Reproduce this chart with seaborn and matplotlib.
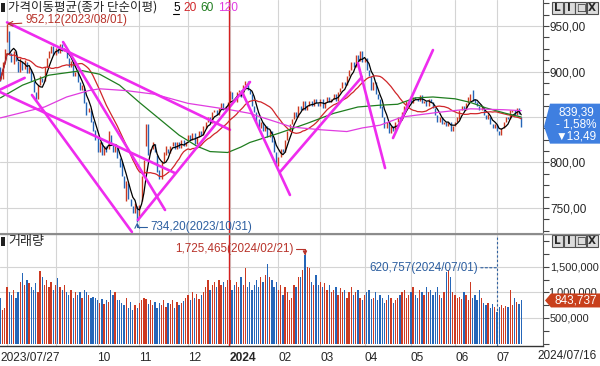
import matplotlib
matplotlib.use("Agg")
import matplotlib.pyplot as plt
import matplotlib.patches as mpatches
from matplotlib.ticker import MultipleLocator
import seaborn as sns
import pandas as pd
import numpy as np

# KOSDAQ daily, 2023/07/27 - 2024/07/16
start_date = "2023-07-27"
end_date = "2024-07-16"
krx_holidays = ["2023-08-15", "2023-09-28", "2023-09-29", "2023-10-02", "2023-10-03",
                "2023-10-09", "2023-12-25", "2023-12-29", "2024-01-01", "2024-02-09",
                "2024-02-12", "2024-03-01", "2024-04-10", "2024-05-01", "2024-05-06",
                "2024-05-15", "2024-06-06"]

opens = [
    905, 892, 910, 932, 945, 920, 908, 922, 912, 900,
    912, 903, 910, 898, 903, 890, 878, 870, 885, 893,
    890, 905, 915, 920, 928, 918, 926, 920, 930, 922,
    925, 915, 905, 910, 895, 900, 888, 880, 882, 866,
    855, 858, 846, 836, 828, 812, 822, 808, 818, 815,
    830, 820, 812, 818, 805, 800, 785, 758, 778, 760,
    752, 745, 752, 740, 758, 788, 818, 842, 810, 815,
    820, 808, 792, 782, 800, 808, 815, 810, 818, 822,
    815, 822, 816, 825, 818, 822, 830, 825, 832, 820,
    828, 835, 830, 838, 845, 850, 843, 855, 858, 852,
    860, 865, 858, 860, 867, 878, 870, 866, 878, 880,
    872, 885, 890, 880, 875, 862, 855, 848, 838, 845,
    835, 840, 828, 835, 825, 812, 796, 806, 815, 812,
    825, 835, 842, 848, 855, 850, 862, 858, 868, 858,
    862, 868, 862, 870, 865, 862, 870, 860, 866, 872,
    866, 870, 875, 868, 878, 882, 888, 885, 895, 902,
    910, 905, 918, 912, 922, 910, 915, 902, 895, 880,
    888, 875, 870, 862, 850, 838, 845, 832, 840, 835,
    845, 850, 848, 855, 862, 868, 870, 865, 872, 870,
    868, 874, 865, 868, 862, 870, 866, 860, 852, 845,
    850, 842, 845, 840, 845, 835, 840, 845, 848, 858,
    862, 858, 865, 868, 880, 870, 866, 862, 858, 860,
    852, 848, 850, 842, 838, 842, 835, 830, 838, 845,
    850, 848, 855, 858, 852, 860, 850]

closes = [
    890, 910, 925, 952.12, 918, 910, 922, 912, 900, 915,
    902, 913, 898, 905, 890, 878, 868, 885, 895, 888,
    905, 915, 922, 928, 918, 926, 920, 930, 922, 925,
    915, 905, 912, 895, 900, 888, 880, 885, 865, 852,
    860, 845, 835, 825, 812, 822, 808, 818, 812, 835,
    820, 812, 820, 805, 795, 785, 772, 780, 760, 752,
    745, 755, 734.2, 753, 785, 803, 842, 808, 815, 822,
    812, 790, 782, 800, 812, 818, 810, 818, 822, 815,
    822, 816, 825, 818, 822, 830, 825, 832, 820, 828,
    835, 830, 840, 845, 850, 843, 855, 858, 852, 860,
    865, 858, 862, 866.6, 878.9, 870, 866, 878, 880, 872,
    885, 890, 880, 875, 862, 855, 845, 838, 845, 835,
    840, 828, 835, 822, 812, 798, 806, 815, 812, 825,
    835, 842, 848, 855, 850, 862, 858, 868, 858, 862,
    868, 862, 870, 865, 862, 870, 860, 866, 872, 866,
    870, 875, 868, 878, 882, 888, 885, 895, 902, 910,
    905, 918, 912, 922, 910, 915, 902, 895, 880, 888,
    875, 870, 860, 850, 838, 845, 832, 840, 835, 845,
    850, 848, 855, 862, 868, 870, 865, 872, 870, 868,
    874, 865, 868, 862, 870, 866, 860, 852, 845, 850,
    842, 845, 840, 845, 835, 840, 845, 850, 858, 862,
    858, 865, 872, 875, 868, 865, 862, 858, 862, 852,
    848, 853, 842, 838, 842, 835, 830, 838, 845, 850,
    848, 858, 858, 852, 860, 852.88, 839.39]

# volume in thousands of shares
volumes_k = [
    890, 650, 700, 1100, 1000, 950, 1050, 900, 1000, 1200,
    1380, 1150, 1250, 1180, 1100, 1050, 1180, 1000, 1420, 1300,
    1150, 1250, 1100, 1200, 1050, 1150, 1280, 1100, 1050, 1150,
    1000, 950, 1050, 900, 1000, 950, 1000, 900, 1050, 1000,
    950, 900, 920, 900, 850, 800, 880, 780, 850, 820,
    1050, 950, 1000, 850, 850, 800, 750, 900, 700, 820,
    650, 750, 700, 800, 850, 900, 880, 780, 850, 750,
    820, 700, 800, 750, 850, 720, 800, 780, 850, 700,
    820, 760, 800, 840, 900, 950, 850, 1000, 900, 980,
    880, 950, 1000, 1100, 1250, 1050, 1150, 1200, 1100, 1250,
    1150, 1200, 1100, 1250, 1250, 1050, 1150, 1200, 1100, 1300,
    1150, 1480, 1100, 1200, 1050, 1150, 1250, 1100, 1300, 1200,
    1350, 1560, 1300, 1250, 1100, 1200, 1050, 1150, 950, 1100,
    1000, 850, 900, 1150, 1100, 1300, 1300, 1450, 1725.465, 1500,
    1480, 1200, 1150, 1350, 1150, 1200, 1100, 1180, 1050, 1150,
    1000, 1050, 1100, 950, 1080, 1000, 1050, 900, 1000, 1100,
    950, 1000, 1050, 900, 850, 950, 1000, 1050, 880, 900,
    1000, 850, 950, 900, 800, 850, 950, 900, 800, 850,
    900, 950, 1000, 1050, 900, 950, 1000, 1100, 950, 900,
    1050, 1000, 950, 1100, 1000, 1050, 950, 1000, 1100, 950,
    900, 1000, 1400, 1450, 1300, 1000, 950, 900, 920, 880,
    1000, 950, 850, 1200, 900, 950, 850, 1050, 900, 800,
    750, 800, 700, 780, 720, 620.757, 720, 760, 700, 740,
    720, 1050, 760, 900, 820, 780, 843.737]

# 60 / 120 day averages as drawn (they need history before the window)
ma60_idx = [0, 10, 22, 37, 45, 54, 63, 72, 81, 89, 95, 103, 109, 113, 126, 139,
            151, 162, 172, 180, 188, 196, 206, 213, 220, 229, 236]
ma60_val = [871, 885, 896, 901, 897, 885, 866, 848, 830, 818, 812, 811, 817, 822, 832, 843,
            854, 861, 863, 864, 871, 872, 870, 866, 860, 854, 850]
ma120_idx = [0, 10, 20, 30, 40, 45, 57, 70, 85, 104, 113, 118, 127, 132, 145, 157,
             164, 172, 182, 198, 213, 228, 236]
ma120_val = [849, 855, 861, 872, 879, 881, 879, 875, 865, 858, 854, 850, 843, 839, 836, 834,
             838, 841, 850, 855, 859, 858, 857]

# hand drawn trend lines: (bar0, price0, bar1, price1)
trend_lines = [
    (3, 954, 104, 836),
    (-0.2, 880, 11, 893),
    (-0.2, 877.5, 79, 788.5),
    (28.4, 932.4, 74.6, 747.8),
    (14.3, 874.2, 59.6, 723.6),
    (62.3, 736.8, 113.1, 888.5),
    (109.5, 877.5, 131.2, 764.3),
    (126.7, 789.6, 163.8, 894.0),
    (162.0, 909.3, 174.3, 793.9),
    (177.9, 826.9, 196.0, 923.6),
]

high_mark = ("2023-08-01", 952.12)
low_mark = ("2023-10-31", 734.20)
vol_max_mark = ("2024-02-21", 1725465)
vol_mark = ("2024-07-01", 620757)

price_ticks = [750, 800, 850, 900, 950]
vol_ticks = [500000, 1000000, 1500000]
ma_periods = [5, 20, 60, 120]

# ---------------------------------------------------------------
sns.set_style("white")
plt.rcParams['font.family'] = ['Liberation Sans', 'Noto Sans CJK KR', 'DejaVu Sans']

dates = pd.bdate_range(start_date, end_date)
dates = dates[~dates.isin(pd.to_datetime(krx_holidays))]
assert len(dates) == len(closes) == len(opens) == len(volumes_k)

df = pd.DataFrame({'date': dates, 'open': opens, 'close': closes,
                   'volume': np.array(volumes_k) * 1000})
df['i'] = np.arange(len(df))
df['ma5'] = df['close'].rolling(5, min_periods=1).mean()
df['ma20'] = df['close'].rolling(20, min_periods=1).mean()
df['up'] = df['close'] >= df['open']


def bar_of(d):
    return int(df.index[df['date'] == pd.Timestamp(d)][0])


def kfmt(v):
    return f"{v:.2f}".replace('.', ',')


RED = '#cc3a22'
BLUE = '#2566b8'
GRID = '#d4d4d4'
TREND = '#ee2cee'
colors = np.where(df['up'], RED, BLUE)

W, H = 600, 366
fig = plt.figure(figsize=(W / 100, H / 100), dpi=100)


def rect(l, t, r, b):
    return [l / W, 1 - b / H, (r - l) / W, (b - t) / H]


ax = fig.add_axes(rect(0, 0, 543, 233))
axv = fig.add_axes(rect(0, 235, 543, 346), sharex=ax)

# month grid lines
first_of_month = df.groupby([df['date'].dt.year, df['date'].dt.month])['i'].first().values[1:]
for a in (ax, axv):
    for m in first_of_month:
        a.axvline(m, color=GRID, lw=0.8, zorder=0)

# --- price panel
ax.vlines(df['i'], df[['open', 'close']].min(axis=1), df[['open', 'close']].max(axis=1),
          colors=colors, lw=1.0, zorder=2)
sns.lineplot(data=df, x='i', y='ma5', ax=ax, color='black', lw=0.9, zorder=3)
sns.lineplot(data=df, x='i', y='ma20', ax=ax, color='#d0262a', lw=0.9, zorder=3)
sns.lineplot(x=ma60_idx, y=ma60_val, ax=ax, color='#1f7d1f', lw=0.9, zorder=3)
sns.lineplot(x=ma120_idx, y=ma120_val, ax=ax, color='#e03ce0', lw=0.9, zorder=3)
for x0, y0, x1, y1 in trend_lines:
    ax.plot([x0, x1], [y0, y1], color=TREND, lw=1.9, solid_capstyle='round', zorder=4)

year_bar = bar_of("2024-01-02")
for a in (ax, axv):
    a.axvline(year_bar - 0.3, color='#d42020', lw=1.0, zorder=5)

ax.set_xlim(-0.18, 245.86)
ax.set_ylim(722.5, 978.6)
ax.set_xlabel('')
ax.set_ylabel('')
ax.yaxis.tick_right()
ax.set_yticks(price_ticks)
# the 850 label sits under the last-price box, so it is left blank
ax.set_yticklabels(['' if v == 850 else kfmt(v) for v in price_ticks])
ax.yaxis.set_minor_locator(MultipleLocator(12.5))
ax.tick_params(axis='y', which='both', direction='out', length=4, width=0.8,
               color='#444444', pad=1, labelsize=8.5)
ax.tick_params(axis='x', bottom=False, labelbottom=False)
ax.yaxis.grid(True, color=GRID, lw=0.8, zorder=0)
for s in ('top', 'left'):
    ax.spines[s].set_visible(False)
ax.spines['right'].set_color('#555555')
ax.spines['bottom'].set_color('#909090')

hb = bar_of(high_mark[0])
ax.annotate(f"{kfmt(high_mark[1])}({high_mark[0].replace('-', '/')})",
            xy=(hb, high_mark[1]), xytext=(13, 3), textcoords='offset points',
            ha='left', va='center', fontsize=8.4, color='#b8332a',
            arrowprops=dict(arrowstyle='->', color='#b8332a', lw=0.8,
                            shrinkA=0, shrinkB=0), annotation_clip=False, zorder=6)
lb = bar_of(low_mark[0])
ax.annotate(f"{kfmt(low_mark[1])}({low_mark[0].replace('-', '/')})",
            xy=(lb, low_mark[1]), xytext=(9.5, -3.5), textcoords='offset points',
            ha='left', va='center', fontsize=8.4, color='#2d5fa0',
            arrowprops=dict(arrowstyle='->', color='#2d5fa0', lw=0.8, shrinkA=0, shrinkB=0,
                            connectionstyle='angle,angleA=0,angleB=90,rad=0'),
            annotation_clip=False, zorder=6)

# --- volume panel
axv.bar(df['i'], df['volume'], width=0.6, color=colors, linewidth=0, zorder=2)
axv.set_ylim(-49000, 2127000)
axv.yaxis.tick_right()
axv.set_yticks(vol_ticks)
axv.set_yticklabels(['' if v == 1000000 else f"{v:,}" for v in vol_ticks])
axv.yaxis.set_minor_locator(MultipleLocator(250000))
axv.tick_params(axis='y', which='both', direction='out', length=4, width=0.8,
                color='#444444', pad=1, labelsize=7.9)
axv.yaxis.grid(True, color=GRID, lw=0.8, zorder=0)
for s in ('top', 'left'):
    axv.spines[s].set_visible(False)
axv.spines['right'].set_color('#555555')
axv.spines['bottom'].set_color('#333333')
axv.spines['bottom'].set_linewidth(1.0)

tick_bars = [0] + [bar_of(d) for d in ["2023-10-04", "2023-11-01", "2023-12-01", "2024-01-02",
                                       "2024-02-01", "2024-03-04", "2024-04-01", "2024-05-02",
                                       "2024-06-03", "2024-07-01"]]
tick_text = ["2023/07/27", "10", "11", "12", "2024", "02", "03", "04", "05", "06", "07"]
axv.set_xticks(tick_bars)
axv.set_xticklabels(tick_text, ha='left')
axv.tick_params(axis='x', direction='out', length=3, width=0.8, color='#333333',
                pad=1.5, labelsize=8.6)
for t in axv.get_xticklabels():
    if t.get_text() == "2024":
        t.set_fontweight('bold')
axv.set_xlabel('')

vb = bar_of(vol_max_mark[0])
axv.annotate(f"{vol_max_mark[1]:,}({vol_max_mark[0].replace('-', '/')})",
             xy=(vb, vol_max_mark[1]), xytext=(-8.5, 5), textcoords='offset points',
             ha='right', va='center', fontsize=8.4, color='#b8332a',
             arrowprops=dict(arrowstyle='-|>', color='#b8332a', lw=0.8, shrinkA=0, shrinkB=0,
                             mutation_scale=6,
                             connectionstyle='angle,angleA=0,angleB=90,rad=0'),
             annotation_clip=False, zorder=6)
jb = bar_of(vol_mark[0])
axv.axvline(jb, color='#2d5fa0', lw=0.8, ls=(0, (2, 2)), zorder=5)
axv.annotate(f"{vol_mark[1]:,}({vol_mark[0].replace('-', '/')})",
             xy=(jb, 0.705), xycoords=('data', 'axes fraction'),
             xytext=(-14, 0), textcoords='offset points', ha='right', va='center',
             fontsize=8.4, color='#2d5fa0',
             arrowprops=dict(arrowstyle='-', color='#2d5fa0', lw=0.8, ls=(0, (2, 2)),
                             shrinkA=0, shrinkB=0), zorder=6)

# --- overlay in pixel coordinates for the chart chrome
ov = fig.add_axes([0, 0, 1, 1])
ov.set_xlim(0, W)
ov.set_ylim(H, 0)
ov.axis('off')

ov.plot([0, W], [233.5, 233.5], color='#8a8a8a', lw=1.0)
ov.add_patch(mpatches.Rectangle((1, 3), 4, 9, fc='#202020', ec='none'))
ov.add_patch(mpatches.Rectangle((1, 237), 4, 9, fc='#202020', ec='none'))
ov.text(8, 7.5, "가격이동평균(종가 단순이평)", ha='left', va='center', fontsize=9.0,
        family=['Noto Sans CJK KR'])
ma_cols = ['black', '#d0262a', '#1f7d1f', '#e03ce0']
ma_x = [173, 183, 200, 218]
for p, c, x in zip(ma_periods, ma_cols, ma_x):
    ov.text(x, 8, str(p), ha='left', va='center', fontsize=8.6, color=c)
ov.plot([173, 179], [13.5, 13.5], color='black', lw=0.8)
ov.text(8, 241.5, "거래량", ha='left', va='center', fontsize=9.4, family=['Noto Sans CJK KR'])

for top in (2, 235):
    for k, ch in enumerate(["L", "I", "□", "X"]):
        x0 = 552 + k * 11.5
        ov.add_patch(mpatches.Rectangle((x0, top), 11, 12, fc='#dcdcdc', ec='#505050', lw=0.8))
        ov.text(x0 + 5.5, top + 6.2, ch, ha='center', va='center', fontsize=7.5,
                fontweight='bold', family=['DejaVu Sans'])

# last price box
last, prev = df['close'].iloc[-1], df['close'].iloc[-2]
chg = last - prev
yc = H - ax.transData.transform((0, last))[1]
ov.add_patch(mpatches.Polygon([(544, yc), (550, yc - 23), (600, yc - 23), (600, yc + 17),
                               (550, yc + 17)], closed=True, fc='#3f7fe0', ec='none', zorder=7))
ov.text(576, yc - 14, kfmt(last), ha='center', va='center', color='white', fontsize=8.5, zorder=8)
ov.text(576, yc - 2, f"- {kfmt(abs(chg) / prev * 100)}%", ha='center', va='center',
        color='white', fontsize=8.5, zorder=8)
ov.text(576, yc + 10, f"▼{kfmt(abs(chg))}", ha='center', va='center', color='white',
        fontsize=8.5, zorder=8, family=['Liberation Sans', 'DejaVu Sans'])

# last volume box, with the 1,000,000 label peeking out above it as in the source
last_vol = df['volume'].iloc[-1]
yv = H - axv.transData.transform((0, last_vol))[1]
y1m = H - axv.transData.transform((0, 1000000))[1]
ov.text(548, y1m, f"{1000000:,}", ha='left', va='center', fontsize=7.9, zorder=6)
ov.add_patch(mpatches.Polygon([(545, yv), (551, yv - 7), (600, yv - 7), (600, yv + 7),
                               (551, yv + 7)], closed=True, fc='#c8401c', ec='none', zorder=7))
ov.text(576, yv, f"{last_vol:,.0f}", ha='center', va='center', color='white',
        fontsize=8.5, zorder=8)

ov.text(597, 356, df['date'].iloc[-1].strftime("%Y/%m/%d"), ha='right', va='center',
        fontsize=8.5)

fig.savefig("out.png", dpi=100)
